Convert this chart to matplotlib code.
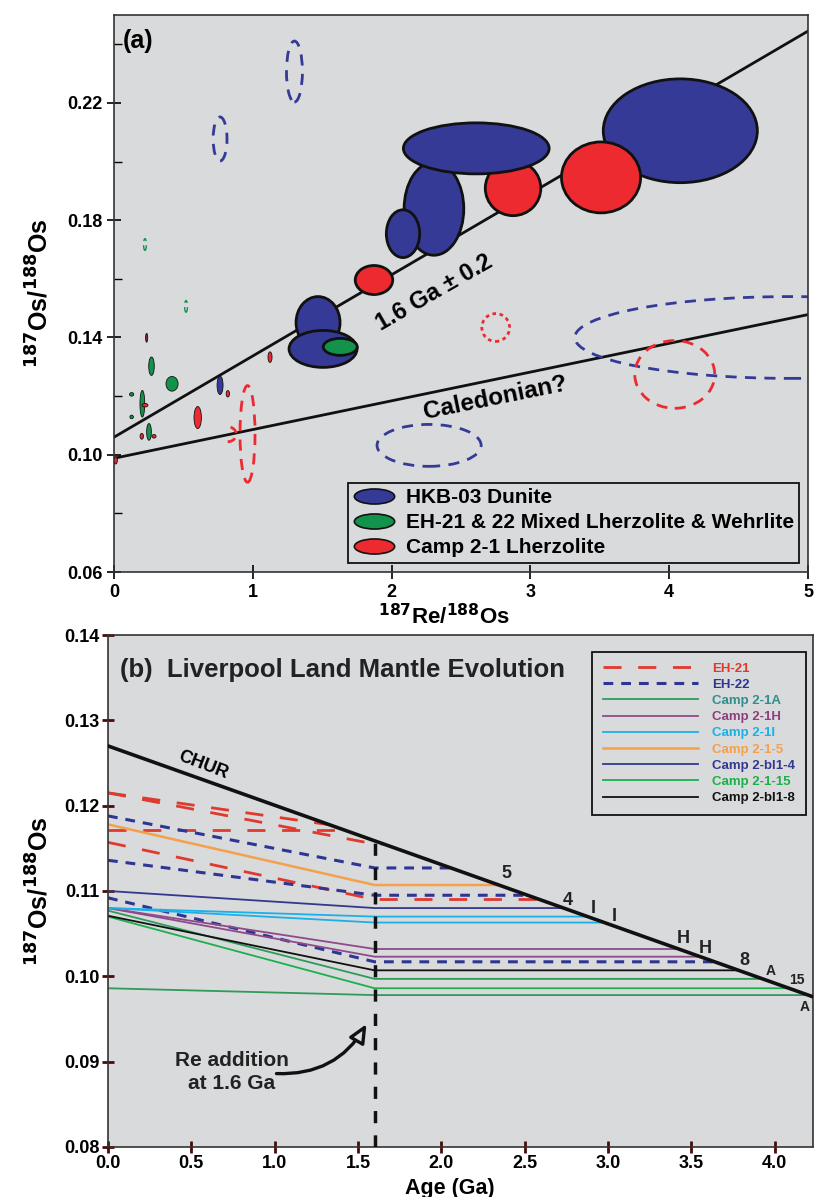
import numpy as np
import matplotlib
matplotlib.use('Agg')
import matplotlib.pyplot as plt
from matplotlib.patches import Ellipse, Arc
from matplotlib.lines import Line2D
from matplotlib.path import Path
from matplotlib.transforms import Affine2D

plt.rcParams['font.family'] = ['Liberation Sans', 'DejaVu Sans']
plt.rcParams['font.weight'] = 'bold'
plt.rcParams['mathtext.default'] = 'bf'

BG = '#d9dadc'
BLUE = '#343a96'
RED = '#ec2a2f'
GREEN = '#12924a'
MAROON = '#7a2a3a'

# ---------------- panel (a) data: 187Re/188Os vs 187Os/188Os error ellipses
fill_x = [2.305, 2.082, 2.875, 2.61, 4.08, 3.509, 1.873, 1.47, 1.506, 1.63,
          0.27, 0.418, 0.235, 0.764, 0.82, 1.124, 0.603, 0.204, 0.223, 0.252,
          0.288, 0.20, 0.127, 0.127, 0.012]
fill_y = [0.1839, 0.1754, 0.1909, 0.2045, 0.2105, 0.1946, 0.1596, 0.1451, 0.1361, 0.1368,
          0.1302, 0.1242, 0.1399, 0.1237, 0.1208, 0.1333, 0.1127, 0.1174, 0.1169, 0.1078,
          0.1063, 0.1063, 0.1206, 0.1129, 0.0981]
fill_w = [0.43, 0.24, 0.40, 1.05, 1.11, 0.57, 0.27, 0.317, 0.49, 0.245,
          0.04, 0.087, 0.015, 0.043, 0.024, 0.029, 0.053, 0.034, 0.043, 0.034,
          0.03, 0.024, 0.03, 0.025, 0.024]
fill_h = [0.0317, 0.0163, 0.0187, 0.0174, 0.0354, 0.0242, 0.0099, 0.0177, 0.0126, 0.0058,
          0.0063, 0.0050, 0.0030, 0.0063, 0.0022, 0.0036, 0.0075, 0.0091, 0.0012, 0.0057,
          0.0012, 0.0020, 0.0012, 0.0012, 0.0025]
fill_c = ['b', 'b', 'r', 'b', 'b', 'r', 'r', 'b', 'b', 'g',
          'g', 'g', 'm', 'b', 'r', 'r', 'r', 'g', 'r', 'g',
          'r', 'r', 'g', 'g', 'r']

dash_x = [1.30, 0.764, 2.75, 4.87, 4.04, 2.27, 0.962, 0.223, 0.519]
dash_y = [0.2307, 0.2077, 0.1434, 0.140, 0.1274, 0.1032, 0.1071, 0.1717, 0.1506]
dash_w = [0.115, 0.10, 0.20, 3.1, 0.576, 0.75, 0.108, 0.02, 0.02]
dash_h = [0.0208, 0.015, 0.0095, 0.0279, 0.0231, 0.0143, 0.033, 0.004, 0.004]
dash_c = ['b', 'b', 'r', 'b', 'r', 'b', 'r', 'g', 'g']
dash_dotted = [False, False, True, False, False, False, False, False, False]

iso_re = [0, 5]
iso16_os = [0.106, 0.2445]
cal_os = [0.0988, 0.1478]
legend_a = ['HKB-03 Dunite', 'EH-21 & 22 Mixed Lherzolite & Wehrlite', 'Camp 2-1 Lherzolite']

# ---------------- panel (b) data: model Os evolution
chur_age = [0.0, 4.23]
chur_os = [0.127, 0.0976]
re_age = 1.6
samples = ['EH-21', 'EH-21', 'EH-21', 'EH-21', 'EH-22', 'EH-22', 'EH-22',
           'Camp 2-1A', 'Camp 2-1A', 'Camp 2-1H', 'Camp 2-1H', 'Camp 2-1I', 'Camp 2-1I',
           'Camp 2-1-5', 'Camp 2-bl1-4', 'Camp 2-1-15', 'Camp 2-bl1-8']
os_now = [0.1215, 0.1215, 0.1172, 0.1157, 0.1188, 0.1136, 0.1092,
          0.1077, 0.0986, 0.1080, 0.1080, 0.1080, 0.1080,
          0.1178, 0.1100, 0.1070, 0.1071]
os_at16 = [0.1170, 0.1155, 0.1172, 0.1090, 0.1127, 0.1095, 0.1017,
           0.0997, 0.0978, 0.1032, 0.1023, 0.1070, 0.1063,
           0.1107, 0.1080, 0.0986, 0.1007]
legend_order = ['EH-21', 'EH-22', 'Camp 2-1A', 'Camp 2-1H', 'Camp 2-1I',
                'Camp 2-1-5', 'Camp 2-bl1-4', 'Camp 2-1-15', 'Camp 2-bl1-8']
end_labels = ['5', '4', 'I', 'I', 'H', 'H', '8', 'A', '15', 'A']
end_x = [2.393, 2.758, 2.914, 3.040, 3.454, 3.586, 3.820, 3.976, 4.132, 4.180]
end_y = [0.1120, 0.1089, 0.1079, 0.1070, 0.1044, 0.1033, 0.1018, 0.1006, 0.0996, 0.0964]

cmap = {'b': BLUE, 'r': RED, 'g': GREEN, 'm': MAROON}
styles = {
    'EH-21': dict(color='#e03a2f', lw=2.0, dashes=(6.5, 6.0)),
    'EH-22': dict(color='#2e3592', lw=2.2, dashes=(3.2, 2.6)),
    'Camp 2-1A': dict(color='#2e9b5a', lw=1.3),
    'Camp 2-1H': dict(color='#8e4a8a', lw=1.3),
    'Camp 2-1I': dict(color='#1ab0e8', lw=1.3),
    'Camp 2-1-5': dict(color='#f5a04a', lw=1.8),
    'Camp 2-bl1-4': dict(color='#35378f', lw=1.3),
    'Camp 2-1-15': dict(color='#1bb04b', lw=1.3),
    'Camp 2-bl1-8': dict(color='#111111', lw=1.3),
}
text_colors = {'EH-21': '#e03a2f', 'EH-22': '#2e3592', 'Camp 2-1A': '#2f8f8c',
               'Camp 2-1H': '#8e3f7e', 'Camp 2-1I': '#1ab0e8', 'Camp 2-1-5': '#f5a04a',
               'Camp 2-bl1-4': '#35378f', 'Camp 2-1-15': '#1bb04b', 'Camp 2-bl1-8': '#111111'}

fig = plt.figure(figsize=(8.15, 11.97), dpi=100)

# ================= (a)
ax = fig.add_axes([0.1399, 0.5221, 0.8515, 0.4654])
ax.set_facecolor(BG)
ax.set_xlim(0, 5)
ax.set_ylim(0.06, 0.25)
ax.plot(iso_re, iso16_os, color='#111111', lw=2.0, zorder=1)
ax.plot(iso_re, cal_os, color='#111111', lw=2.0, zorder=1)

for x, y, w, h, c in zip(fill_x, fill_y, fill_w, fill_h, fill_c):
    lw = 2.0 if w > 0.2 else 0.6
    ax.add_patch(Ellipse((x, y), w, h, facecolor=cmap[c], edgecolor='#111111',
                         lw=lw, zorder=3))
for x, y, w, h, c, dot in zip(dash_x, dash_y, dash_w, dash_h, dash_c, dash_dotted):
    ls = (0, (1.3, 1.3)) if dot else (0, (4, 3))
    lw = 1.0 if c == 'g' else 2.0
    ax.add_patch(Ellipse((x, y), w, h, facecolor='none', edgecolor=cmap[c],
                         lw=lw, ls=ls, zorder=2))
ax.add_patch(Arc((0.82, 0.1070), 0.12, 0.0051, theta1=-110, theta2=110,
                 edgecolor=RED, lw=2.0, ls=(0, (3, 2)), zorder=2))

ax.text(0.06, 0.241, '(a)', fontsize=18, fontweight='bold', va='center')
ax.text(2.31, 0.1553, '1.6 Ga \u00b1 0.2', fontsize=17, fontweight='bold',
        rotation=30, ha='center', va='center')
ax.text(2.745, 0.1192, 'Caledonian?', fontsize=17.5, fontweight='bold',
        rotation=11.5, ha='center', va='center')

ax.set_yticks([0.06, 0.10, 0.14, 0.18, 0.22])
ax.set_yticks([0.08, 0.12, 0.16, 0.20, 0.24], minor=True)
ax.set_xticks([0, 1, 2, 3, 4, 5])
ax.set_yticklabels(['0.06', '0.10', '0.14', '0.18', '0.22'])
ax.tick_params(which='major', direction='inout', length=10, width=1.2, labelsize=13)
ax.tick_params(which='minor', direction='in', length=6, width=1.0)
for s in ax.spines.values():
    s.set_linewidth(1.2)
    s.set_color('#333333')
ax.set_ylabel('$^{187}$Os/$^{188}$Os', fontsize=18, fontweight='bold', labelpad=10)
ax.set_xlabel('$^{187}$Re/$^{188}$Os', fontsize=16, fontweight='bold')
ax.xaxis.set_label_coords(0.476, -0.058)

# ellipse-shaped legend markers
ell = Path.unit_circle().transformed(Affine2D().scale(2.67, 1.0))
leg_a = [Line2D([], [], ls='none', marker=ell, markersize=29, markerfacecolor=col,
                markeredgecolor='#111111', markeredgewidth=1.2)
         for col in (BLUE, GREEN, RED)]
lg = ax.legend(leg_a, legend_a, loc='lower right', bbox_to_anchor=(0.987, 0.017),
               borderaxespad=0, fancybox=False, edgecolor='#111111', facecolor=BG,
               framealpha=1, handlelength=2.0, handletextpad=0.5, labelspacing=0.3,
               borderpad=0.25, prop={'weight': 'bold', 'size': 15})
lg.get_frame().set_linewidth(1.3)
lg.set_zorder(6)

# ================= (b)
bx = fig.add_axes([0.1325, 0.0418, 0.8650, 0.4277])
bx.set_facecolor(BG)
bx.set_xlim(0, 4.23)
bx.set_ylim(0.08, 0.14)

c0, c1 = chur_os
cs = (c0 - c1) / (chur_age[1] - chur_age[0])
chur_16 = c0 - cs * re_age
for name, y0, y1 in zip(samples, os_now, os_at16):
    s = (y0 - y1) / re_age
    if y1 > chur_16:
        # reaches CHUR before the Re addition age
        tx = (c0 - y0) / (cs - s)
        xs, ys = [0, tx], [y0, y0 - s * tx]
    else:
        tx = (c0 - y1) / cs
        xs, ys = [0, re_age, tx], [y0, y1, y1]
    bx.plot(xs, ys, zorder=2, **styles[name])

bx.plot(chur_age, chur_os, color='#111111', lw=2.6, zorder=4)
bx.plot([re_age, re_age], [0.08, chur_16], color='#111111', lw=2.5,
        dashes=(3.5, 3.5), zorder=4)

for lab, x, y in zip(end_labels, end_x, end_y):
    fs = 10 if lab in ('A', '15') and x > 3.9 else 13
    bx.text(x, y, lab, fontsize=fs, fontweight='bold', ha='center', va='center',
            color='#222222')

bx.text(0.57, 0.1248, 'CHUR', fontsize=13, fontweight='bold', rotation=-21,
        ha='center', va='center')
bx.text(0.07, 0.1359, '(b)  Liverpool Land Mantle Evolution', fontsize=18.5,
        fontweight='bold', ha='left', va='center', color='#222222')
bx.text(0.741, 0.0888, 'Re addition\nat 1.6 Ga', fontsize=15, fontweight='bold',
        ha='center', va='center', linespacing=1.25, color='#222222')
bx.annotate('', xy=(1.551, 0.0944), xytext=(1.011, 0.0886),
            arrowprops=dict(arrowstyle='-|>,head_length=1.1,head_width=0.5',
                            connectionstyle='arc3,rad=0.3', ec='#111111', fc=BG,
                            lw=2.4, shrinkA=0, shrinkB=0))

handles = [Line2D([], [], **styles[name]) for name in legend_order]
lgb = bx.legend(handles, legend_order, loc='upper right', bbox_to_anchor=(0.99, 0.967),
                borderaxespad=0, fancybox=False, edgecolor='#111111', facecolor=BG,
                framealpha=1, handlelength=7.2, handletextpad=1.1, labelspacing=0.3,
                borderpad=0.8, prop={'weight': 'bold', 'size': 9.5})
lgb.get_frame().set_linewidth(1.3)
for t, name in zip(lgb.get_texts(), legend_order):
    t.set_color(text_colors[name])

bx.set_xticks(np.arange(0, 4.01, 0.5))
bx.set_xticklabels(['0.0', '0.5', '1.0', '1.5', '2.0', '2.5', '3.0', '3.5', '4.0'])
bx.set_yticks(np.arange(0.08, 0.1401, 0.01))
bx.set_yticklabels(['0.08', '0.09', '0.10', '0.11', '0.12', '0.13', '0.14'])
bx.tick_params(direction='inout', length=8, width=2.0, color='#4a0a0a', labelsize=13,
               pad=2)
for s in bx.spines.values():
    s.set_linewidth(1.2)
    s.set_color('#333333')
bx.set_ylabel('$^{187}$Os/$^{188}$Os', fontsize=18, fontweight='bold', labelpad=8)
bx.set_xlabel('Age (Ga)', fontsize=15.5, fontweight='bold')
bx.xaxis.set_label_coords(0.485, -0.060)

fig.savefig('out.png', dpi=100)
